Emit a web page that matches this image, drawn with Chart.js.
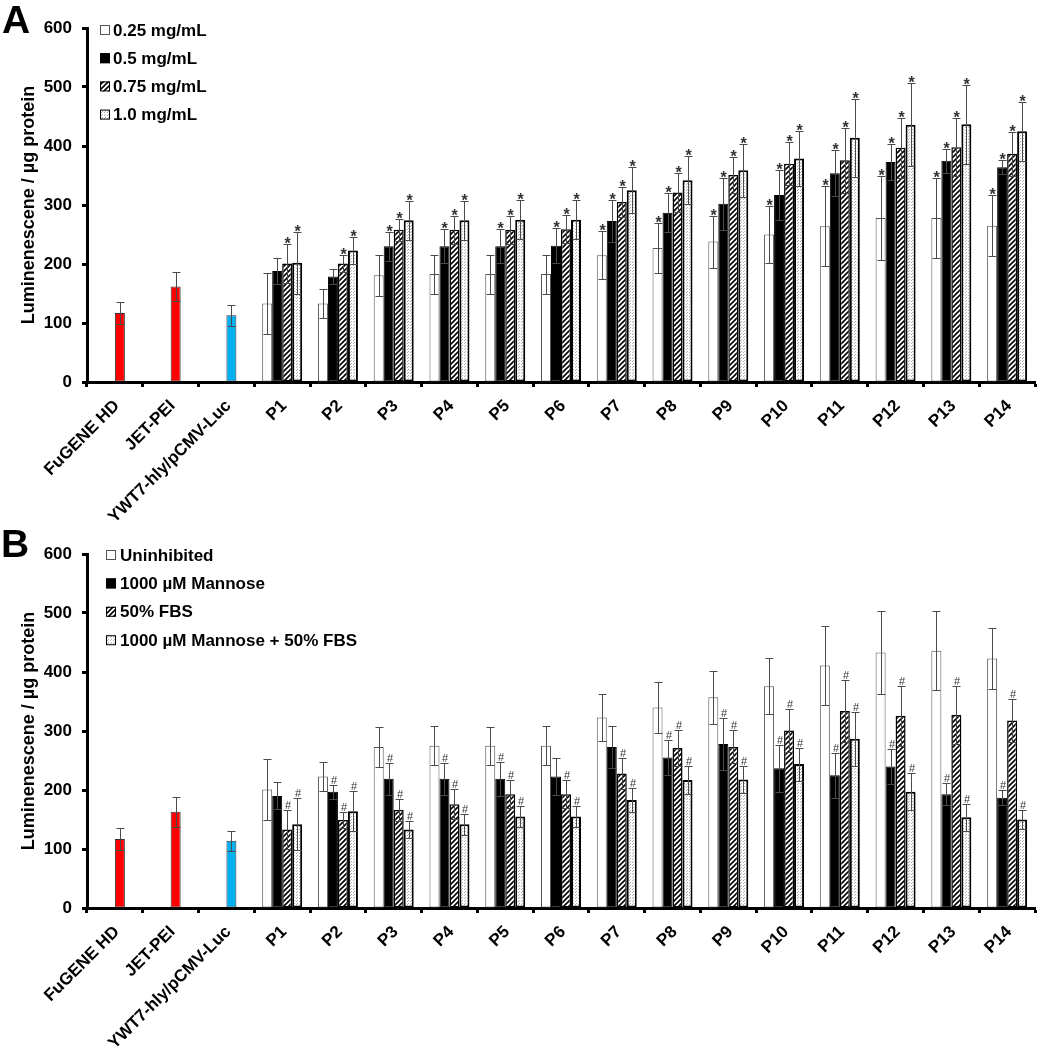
<!DOCTYPE html>
<html><head><meta charset="utf-8">
<script src="https://cdn.jsdelivr.net/npm/chart.js@4.4.1/dist/chart.umd.min.js"></script>
<style>
html,body{margin:0;padding:0;background:#fff;}
#wrap{position:relative;width:1039px;height:1050px;background:#fff;}
canvas{position:absolute;left:0;}
#cA{top:0}
#cB{top:525px}
</style></head>
<body><div id="wrap">
<canvas id="cA" width="1039" height="525"></canvas>
<canvas id="cB" width="1039" height="525"></canvas>
</div>
<script>
// ---------- DATA ----------
const categories = ['FuGENE HD','JET-PEI','YWT7-hly/pCMV-Luc','P1','P2','P3','P4','P5','P6','P7','P8','P9','P10','P11','P12','P13','P14'];
const yTitle = 'Luminenescene / µg protein';

// Panel A
const legendA = ['0.25 mg/mL','0.5 mg/mL','0.75 mg/mL','1.0 mg/mL'];
const a025 = [null,null,null,133,133,181,183,183,183,215,227,238,250,264,278,278,265];
const a025Err = [null,null,null,52,24,35,33,33,33,41,42,44,48,68,71,67,52];
const a050 = [null,null,null,188,179,230,230,230,231,273,287,302,317,354,373,375,364];
const a050Err = [null,null,null,22,13,25,29,29,30,35,33,44,42,39,30,20,12];
const a075 = [117,162,113,201,201,258,258,258,259,305,321,351,370,376,397,398,387];
const a075Err = [18,25,18,33,15,19,24,24,24,26,33,30,36,55,51,49,37];
const a100 = [null,null,null,202,223,274,274,275,275,325,342,359,379,414,436,437,425];
const a100Err = [null,null,null,52,23,33,33,33,33,39,41,45,47,66,70,67,50];
const a025Mark = ['','','','','','','','','','*','*','*','*','*','*','*','*'];
const a050Mark = ['','','','','','*','*','*','*','*','*','*','*','*','*','*','*'];
const a075Mark = ['','','','*','*','*','*','*','*','*','*','*','*','*','*','*','*'];
const a100Mark = ['','','','*','*','*','*','*','*','*','*','*','*','*','*','*','*'];

// Panel B
const legendB = ['Uninhibited','1000 µM Mannose','50% FBS','1000 µM Mannose + 50% FBS'];
const bUninh = [null,null,null,201,223,273,275,275,275,323,340,357,376,411,433,436,423];
const bUninhErr = [null,null,null,52,25,34,33,32,33,40,43,45,48,67,70,67,51];
const bMann = [null,null,null,190,197,219,219,219,223,273,255,278,237,225,240,193,187];
const bMannErr = [null,null,null,23,12,27,27,29,31,35,30,44,40,38,29,19,13];
const bFbs = [117,163,114,133,149,166,176,193,193,228,271,273,301,334,326,327,318];
const bFbsErr = [18,25,17,33,13,18,25,24,24,27,30,28,37,53,51,49,37];
const bBoth = [null,null,null,142,164,133,142,155,155,183,217,218,244,287,197,154,150];
const bBothErr = [null,null,null,44,34,15,18,18,18,21,24,23,28,46,31,23,16];
const bUninhMark = ['','','','','','','','','','','','','','','','',''];
const bMannMark = ['','','','','#','#','#','#','','','#','#','#','#','#','#','#'];
const bFbsMark = ['','','','#','#','#','#','#','#','#','#','#','#','#','#','#','#'];
const bBothMark = ['','','','#','#','#','#','#','#','#','#','#','#','#','#','#','#'];

// control colours (FuGENE HD, JET-PEI, YWT7)
const controlColors = ['#FF0000','#FF0000','#00B0F0'];

// ---------- STYLE ----------
const F = "'Liberation Sans', Arial, sans-serif";

function makePattern(kind){
  const c = document.createElement('canvas');
  const g = c.getContext('2d');
  if (kind === 'hatch') {
    c.width = 5; c.height = 5;
    g.fillStyle = '#fff'; g.fillRect(0,0,5,5);
    g.strokeStyle = '#000'; g.lineWidth = 1.6;
    g.beginPath();
    g.moveTo(-1,6); g.lineTo(6,-1);
    g.moveTo(-1,1); g.lineTo(1,-1);
    g.moveTo(4,6); g.lineTo(6,4);
    g.stroke();
  } else {
    c.width = 3; c.height = 3;
    g.fillStyle = '#fff'; g.fillRect(0,0,3,3);
    g.fillStyle = '#b0b0b0'; g.fillRect(0,0,1,1); g.fillRect(2,1,1,1);
  }
  return g.createPattern(c,'repeat');
}
const hatch = makePattern('hatch');
const dots = makePattern('dots');

const seriesStyles = [
  {bg: '#ffffff', border: '#555555', bw: 1},
  {bg: '#000000', border: '#000000', bw: 1},
  {bg: hatch, border: '#000000', bw: 1.5},
  {bg: dots, border: '#000000', bw: 2}
];

function buildDatasets(labels, values, errs, marks){
  return values.map((v, i) => {
    const st = seriesStyles[i];
    let bg = st.bg, bc = st.border, bw = st.bw;
    if (i === 2) {
      bg = v.map((_, j) => j < 3 ? controlColors[j] : st.bg);
      bc = v.map((_, j) => j < 3 ? '#333333' : st.border);
      bw = v.map((_, j) => j < 3 ? 1 : st.bw);
    }
    return {
      label: labels[i], data: v, errors: errs[i], marks: marks[i],
      backgroundColor: bg, borderColor: bc, borderWidth: bw,
      borderSkipped: false
    };
  });
}

const errorPlugin = {
  id: 'errorBars',
  afterDatasetsDraw(chart){
    const ctx = chart.ctx, ys = chart.scales.y;
    chart.data.datasets.forEach((ds, i) => {
      const meta = chart.getDatasetMeta(i);
      meta.data.forEach((bar, j) => {
        const v = ds.data[j], e = ds.errors ? ds.errors[j] : null;
        if (v == null || e == null) return;
        const x = Math.round(bar.x) + 0.5;
        const yt = Math.round(ys.getPixelForValue(v + e)) + 0.5;
        const yb = Math.round(ys.getPixelForValue(v - e)) + 0.5;
        ctx.save();
        ctx.strokeStyle = '#4a4a4a'; ctx.lineWidth = 1;
        ctx.beginPath();
        ctx.moveTo(x, yt); ctx.lineTo(x, yb);
        ctx.moveTo(x - 4, yt); ctx.lineTo(x + 4, yt);
        ctx.moveTo(x - 4, yb); ctx.lineTo(x + 4, yb);
        ctx.stroke();
        const m = ds.marks ? ds.marks[j] : '';
        if (m) {
          ctx.fillStyle = '#333';
          ctx.textAlign = 'center';
          ctx.textBaseline = 'alphabetic';
          if (m === '*') { ctx.font = 'bold 16px ' + F; ctx.fillText(m, x, yt + 4); }
          else { ctx.font = '11px ' + F; ctx.fillText(m, x + 0.5, yt - 2); }
        }
        ctx.restore();
      });
    });
  }
};

const legendPlugin = {
  id: 'boxLegend',
  afterDraw(chart, args, opts){
    const ctx = chart.ctx;
    ctx.save();
    opts.items.forEach((t, i) => {
      const st = seriesStyles[i];
      const y = opts.y0 + i * opts.dy;
      const bx = opts.bx;
      ctx.fillStyle = st.bg;
      ctx.fillRect(bx, y - 5, 10, 10);
      ctx.strokeStyle = i === 0 ? '#555' : '#000';
      ctx.lineWidth = 1;
      ctx.strokeRect(bx + 0.5, y - 4.5, 9, 9);
      ctx.fillStyle = '#000';
      ctx.font = 'bold 17px ' + F;
      ctx.textAlign = 'left';
      ctx.textBaseline = 'middle';
      ctx.fillText(t, opts.tx, y + 1);
    });
    ctx.font = 'bold 39px ' + F;
    ctx.textAlign = 'left';
    ctx.textBaseline = 'alphabetic';
    ctx.fillStyle = '#000';
    ctx.fillText(opts.letter, opts.lx, opts.ly);
    ctx.restore();
  }
};

function makeChart(id, datasets, p){
  return new Chart(document.getElementById(id), {
    type: 'bar',
    data: { labels: categories, datasets: datasets },
    options: {
      responsive: false, animation: false, devicePixelRatio: 1,
      layout: { padding: { left: 0, right: 4, top: p.top, bottom: 0 } },
      datasets: { bar: { categoryPercentage: 0.717, barPercentage: 1.0 } },
      plugins: {
        legend: { display: false }, tooltip: { enabled: false },
        boxLegend: p.legend
      },
      scales: {
        x: {
          grid: { display: true, drawOnChartArea: false, drawTicks: true, tickLength: 5, tickWidth: 3, tickColor: '#000', offset: true },
          border: { display: true, color: '#000', width: 3 },
          ticks: { color: '#000', font: { family: F, size: 17, weight: 'bold' }, maxRotation: 45, minRotation: 45, autoSkip: false, padding: 9, labelOffset: 2 },
          afterFit(s){ s.height = p.xh; }
        },
        y: {
          min: 0, max: 600,
          ticks: { stepSize: 100, color: '#000', font: { family: F, size: 17, weight: 'bold' }, padding: 10 },
          grid: { drawOnChartArea: false, tickLength: 5, tickWidth: 3, tickColor: '#000' },
          border: { color: '#000', width: 3 },
          title: { display: true, text: yTitle, color: '#000', font: { family: F, size: 18, weight: 'bold' }, padding: { top: 18, bottom: 0 } },
          afterFit(s){ s.width = 87; }
        }
      }
    },
    plugins: [errorPlugin, legendPlugin]
  });
}

makeChart('cA',
  buildDatasets(legendA, [a025, a050, a075, a100], [a025Err, a050Err, a075Err, a100Err], [a025Mark, a050Mark, a075Mark, a100Mark]),
  { top: 28, xh: 143, legend: { items: legendA, bx: 100, tx: 113, y0: 30, dy: 28.2, letter: 'A', lx: 2, ly: 33 } });

makeChart('cB',
  buildDatasets(legendB, [bUninh, bMann, bFbs, bBoth], [bUninhErr, bMannErr, bFbsErr, bBothErr], [bUninhMark, bMannMark, bFbsMark, bBothMark]),
  { top: 29, xh: 142, legend: { items: legendB, bx: 106, tx: 120, y0: 30, dy: 28.4, letter: 'B', lx: 1, ly: 32 } });
</script>
</body></html>
